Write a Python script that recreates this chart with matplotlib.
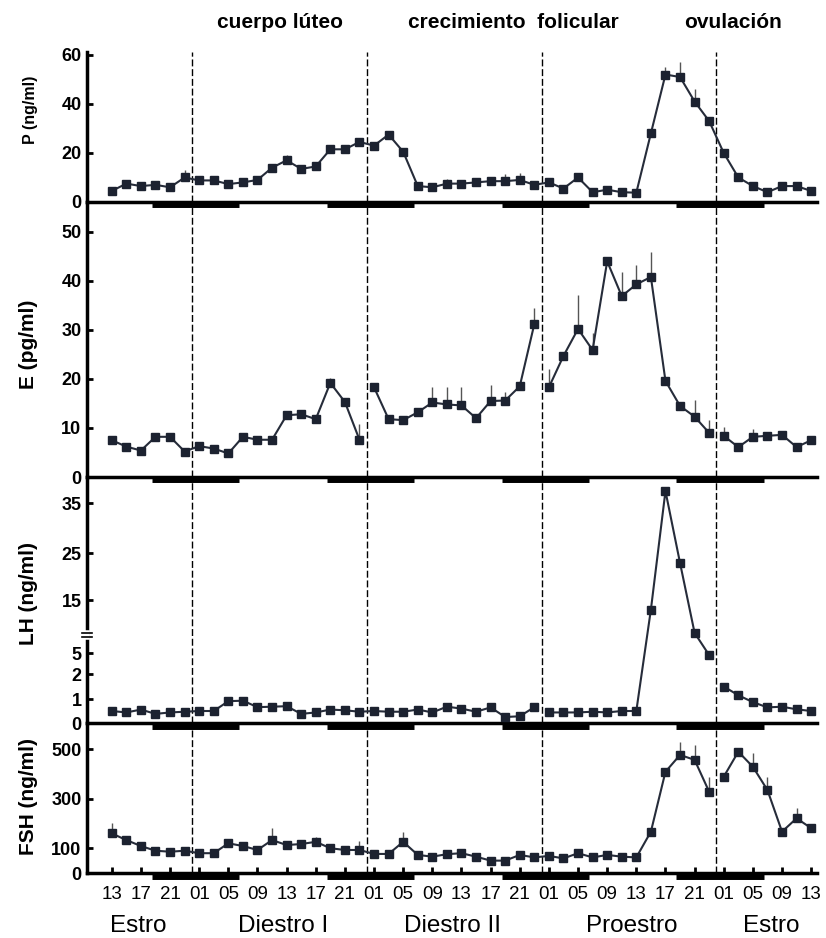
import numpy as np
import matplotlib.pyplot as plt
from matplotlib import transforms

plt.rcParams['font.family'] = ['Liberation Sans', 'DejaVu Sans']

# sampling grid: hours after 13:00 of the first Estro day, one sample every 2 h
t = np.arange(0, 97, 2)

p_vals = [4.5, 7.5, 6.5, 7, 6, 10, 8.8, 8.8, 7.3, 8, 9, 14, 17, 13.5, 14.5, 21.5, 21.5,
          24.5, 23, 27.5, 20.5, 6.5, 6, 7.5, 7.5, 8, 8.5, 8.5, 9, 7, 8, 5.5, 10, 4, 5, 4,
          3.8, 28, 52, 51, 41, 33, 20, 10, 6.5, 4, 6.5, 6.5, 4.5]
p_err = [0, 0, 0, 0, 0, 3, 2, 2, 0, 0, 0, 0, 2, 0, 0, 0, 0, 0, 0, 0, 0, 0, 0, 2, 0,
         0, 0, 3, 3, 0, 0, 0, 0, 0, 0, 0, 0, 0, 3, 6, 5, 0, 0, 0, 0, 0, 0, 0, 0]

e_vals = [7.5, 6.2, 5.4, 8.2, 8.2, 5.2, 6.3, 5.8, 4.8, 8.2, 7.6, 7.6, 12.6, 12.8, 11.8,
          19.2, 15.3, 7.6, 18.3, 11.8, 11.6, 13.2, 15.2, 14.8, 14.6, 12, 15.5, 15.6, 18.5,
          31.2, 18.3, 24.7, 30.2, 25.9, 44, 36.9, 39.3, 40.8, 19.6, 14.5, 12.3, 9, 8.4,
          6.1, 8.2, 8.4, 8.6, 6.1, 7.5]
e_err = [0, 0, 0, 0, 0, 0, 0, 0, 0, 0, 0, 0, 0, 0, 0, 1, 0, 3.3, 0, 0, 0, 0, 3.1, 3.5,
         3.7, 0, 3.2, 1.7, 0, 3.2, 3.7, 0, 7, 3.4, 0, 5, 3.9, 5.1, 0, 0, 3.4, 2.7, 1.9,
         0, 1.5, 0, 0, 0, 0]

lh_vals = [0.5, 0.44, 0.56, 0.38, 0.44, 0.47, 0.5, 0.5, 0.91, 0.93, 0.66, 0.68, 0.7,
           0.38, 0.44, 0.56, 0.53, 0.47, 0.5, 0.47, 0.47, 0.56, 0.44, 0.68, 0.6, 0.47,
           0.65, 0.25, 0.28, 0.66, 0.44, 0.44, 0.44, 0.47, 0.44, 0.5, 0.5, 13.2, 37.5,
           22.9, 8.8, 4.7, 1.5, 1.15, 0.87, 0.65, 0.68, 0.57, 0.5]
lh_err = [0] * 49

fsh_vals = [160, 133, 109, 90, 86, 90, 80, 80, 120, 109, 93, 133, 113, 117, 126, 100, 93,
            93, 77, 77, 126, 73, 66, 76, 80, 66, 50, 50, 73, 63, 69, 59, 80, 63, 73, 66,
            63, 167, 409, 477, 457, 328, 389, 490, 429, 335, 167, 221, 181]
fsh_err = [40, 0, 0, 0, 0, 0, 0, 0, 0, 0, 0, 47, 0, 0, 20, 0, 0, 35, 0, 0, 40, 0, 0, 0,
           0, 0, 0, 0, 0, 0, 0, 0, 0, 0, 0, 0, 0, 0, 0, 54, 60, 60, 0, 0, 54, 54, 0, 40, 0]

# indices where the curve is interrupted (sample after midnight not joined)
p_breaks = []
e_breaks = [18, 30, 42]
lh_breaks = [30, 42]
fsh_breaks = [42]

midnights = [11, 35, 59, 83]
dark = [(5.5, 17.5), (29.5, 41.5), (53.5, 65.5), (77.5, 89.5)]
tick_pos = np.arange(0, 97, 4)
tick_hours = ['13', '17', '21', '01', '05', '09'] * 4 + ['13']

labels = ['P (ng/ml)', 'E (pg/ml)', 'LH (ng/ml)', 'FSH (ng/ml)']
yticks = [[0, 20, 40, 60], [0, 10, 20, 30, 40, 50], [0, 1, 2, 5, 15, 25, 35], [0, 100, 300, 500]]
ylims = [(0, 61.2), (0, 56.1), (0, 40.4), (0, 606)]

phases = ['Estro', 'Diestro I', 'Diestro II', 'Proestro', 'Estro']
phase_x = [3.6, 23.5, 46.8, 71.4, 90.5]
events = ['cuerpo lúteo', 'crecimiento  folicular', 'ovulación']
event_x = [23.1, 55.1, 85.3]

# broken LH axis: expanded low range, linear upper range
lh_knots_v = [-10, 0, 1, 2, 5, 15, 25, 35, 60]
lh_knots_p = [-240, 0, 24, 49, 70, 123, 170, 220, 341]


def lh_fwd(v):
    return np.interp(v, lh_knots_v, lh_knots_p)


def lh_inv(p):
    return np.interp(p, lh_knots_p, lh_knots_v)


W, H = 826, 938
x0, x1 = 87, 817
panels = [(52, 202), (202, 477), (477, 723), (723, 873)]
series = [(p_vals, p_err, p_breaks), (e_vals, e_err, e_breaks),
          (lh_vals, lh_err, lh_breaks), (fsh_vals, fsh_err, fsh_breaks)]
label_size = [11.5, 15, 15, 15]
label_y = [0.613, 0.484, 0.528, 0.513]

fig = plt.figure(figsize=(W / 100, H / 100), dpi=100)
axes = []
for k, (top, bot) in enumerate(panels):
    ax = fig.add_axes([x0 / W, 1 - bot / H, (x1 - x0) / W, (bot - top) / H])
    ax.patch.set_visible(False)
    if k == 2:
        ax.set_yscale('function', functions=(lh_fwd, lh_inv))
    vals, err, brk = series[k]
    vals = np.array(vals, dtype=float)
    err = np.array(err, dtype=float)
    for seg in np.split(np.arange(len(t)), brk):
        ax.plot(t[seg], vals[seg], '-', color='#262c3a', lw=1.5, marker='s', ms=5.3,
                mfc='#1c2230', mec='#1c2230', zorder=4)
    m = err > 0
    ax.vlines(t[m], vals[m], vals[m] + err[m], color='#555555', lw=1, zorder=3)
    for mn in midnights:
        ax.axvline(mn, color='black', lw=1, ls=(0, (5, 2)), zorder=2)
    tr = transforms.offset_copy(ax.get_xaxis_transform(), fig=fig, y=-2.5, units='dots')
    for a, b in dark:
        ax.hlines(0, a, b, transform=tr, lw=5, color='black', clip_on=False, zorder=3)

    for s in ['top', 'right']:
        ax.spines[s].set_visible(False)
    for s in ['left', 'bottom']:
        ax.spines[s].set_linewidth(2.5)
    ax.set_xlim(-3.4, 96.8)
    ax.set_ylim(*ylims[k])
    ax.set_yticks(yticks[k], [str(v) for v in yticks[k]], fontweight='bold', fontsize=13)
    ax.tick_params(axis='y', direction='in', length=4, width=2, pad=4)
    ax.yaxis.set_minor_locator(plt.NullLocator())
    ax.set_ylabel(labels[k], fontsize=label_size[k], fontweight='bold')
    ax.yaxis.set_label_coords(-0.067, label_y[k])
    if k < 3:
        ax.tick_params(axis='x', length=0, labelbottom=False)
    else:
        ax.set_xticks(tick_pos, tick_hours, fontsize=13.5)
        ax.tick_params(axis='x', direction='in', length=4, width=2, pad=9)
    axes.append(ax)

# axis break mark on LH
ax = axes[2]
yb = 88 / 246
ax.plot([0, 0], [yb - 0.007, yb + 0.007], transform=ax.transAxes, color='white',
        lw=4, clip_on=False, zorder=5)
for yy in (yb - 0.007, yb + 0.007):
    ax.plot([-0.007, 0.007], [yy, yy], transform=ax.transAxes, color='black',
            lw=1.2, clip_on=False, zorder=6)

for txt, x in zip(events, event_x):
    axes[0].text(x, 1.2, txt, transform=axes[0].get_xaxis_transform(), ha='center',
                 va='center', fontsize=15, fontweight='bold')
for txt, x in zip(phases, phase_x):
    axes[3].text(x, -0.35, txt, transform=axes[3].get_xaxis_transform(), ha='center',
                 va='center', fontsize=17.5)

fig.savefig('out.png', dpi=100)
